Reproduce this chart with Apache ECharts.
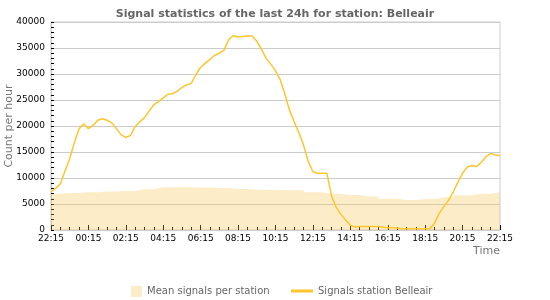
<!DOCTYPE html>
<html>
<head>
<meta charset="utf-8">
<script src="https://cdn.jsdelivr.net/npm/echarts@6/dist/echarts.min.js"></script>
<style>
  html, body { margin: 0; padding: 0; background: #fff; }
  #chart { width: 550px; height: 300px; }
</style>
</head>
<body>
<div id="chart"></div>
<script>
  // x = hours after 22:15 (one day back), tick labels every 2h
  const tickLabels = ['22:15', '00:15', '02:15', '04:15', '06:15', '08:15', '10:15',
    '12:15', '14:15', '16:15', '18:15', '20:15', '22:15']

  // mean signals per station, one value per hour
  const meanHours = [0, 1, 2, 3, 4, 5, 6, 7, 8, 9, 10, 11, 12, 13, 14, 15, 16, 17, 18, 19, 20, 21, 22, 23, 24]
  const meanValues = [6950, 7100, 7250, 7380, 7500, 7830, 8200, 8220, 8150, 8090, 7900, 7750, 7700,
    7650, 7250, 6950, 6750, 6420, 6000, 5780, 5950, 6300, 6700, 6950, 7250]

  // signals of station Belleair, one value per quarter hour
  const stationValues = [
    7400, 8000, 8900, 11400, 13700, 16800, 19500, 20400,
    19500, 20100, 21100, 21400, 21100, 20600, 19500, 18300,
    17800, 18200, 19900, 20800, 21600, 22900, 24100, 24700,
    25400, 26100, 26200, 26700, 27400, 27900, 28200, 29900,
    31300, 32100, 32800, 33600, 34000, 34600, 36600, 37400,
    37100, 37200, 37300, 37300, 36300, 34800, 33000, 31900,
    30600, 28900, 26200, 23000, 20800, 18700, 16300, 13200,
    11200, 10900, 10900, 10900, 6500, 4300, 3000, 1900,
    900, 550, 650, 650, 650, 650, 650, 550,
    450, 450, 400, 250, 250, 250, 250, 250,
    250, 250, 1300, 3200, 4500, 5700, 7300, 9200,
    10900, 12100, 12400, 12200, 13000, 14100, 14700, 14400,
    14300
  ]

  const meanColor = 'rgba(248, 192, 72, 0.3)'
  const lineColor = '#fdc62f'
  const textFont = 'DejaVu Sans'

  const chart = echarts.init(document.getElementById('chart'))

  chart.setOption({
    animation: false,
    textStyle: { fontFamily: textFont },
    title: {
      text: 'Signal statistics of the last 24h for station: Belleair',
      left: 'center',
      top: 4,
      textStyle: { fontSize: 11, fontWeight: 'bold', color: '#666', fontFamily: textFont }
    },
    // y axis title, drawn as a rotated text
    graphic: [{
      type: 'text',
      x: 9,
      y: 126,
      rotation: Math.PI / 2,
      style: {
        text: 'Count per hour',
        fill: '#777',
        font: '11px "DejaVu Sans"',
        align: 'center',
        verticalAlign: 'middle'
      }
    }],
    grid: {
      left: 51,
      right: 50,
      top: 22,
      bottom: 70,
      containLabel: false,
      outerBoundsMode: 'none',
      show: true,
      borderColor: '#ccc',
      borderWidth: 1
    },
    legend: [
      {
        data: [{ name: 'Mean signals per station', icon: 'rect' }],
        left: 126,
        top: 281,
        itemWidth: 11,
        itemHeight: 11,
        textStyle: { color: '#666', fontSize: 10, fontFamily: textFont }
      },
      {
        data: [{ name: 'Signals station Belleair', icon: 'rect', itemStyle: { color: lineColor } }],
        left: 286,
        top: 281,
        itemWidth: 22,
        itemHeight: 3,
        textStyle: { color: '#666', fontSize: 10, fontFamily: textFont }
      }
    ],
    xAxis: {
      type: 'value',
      min: 0,
      max: 24,
      interval: 2,
      name: 'Time',
      nameLocation: 'end',
      nameGap: 0,
      nameTextStyle: {
        color: '#777',
        fontSize: 11,
        align: 'right',
        verticalAlign: 'top',
        padding: [16, 0, 0, 0]
      },
      axisLine: { lineStyle: { color: '#ccc' } },
      axisTick: { inside: true, length: 5, lineStyle: { color: '#000' } },
      minorTick: { show: true, splitNumber: 4, length: 3, lineStyle: { color: '#000' } },
      splitLine: { show: false },
      axisLabel: {
        color: '#000',
        fontSize: 9,
        margin: 4,
        formatter: (v) => tickLabels[Math.round(v / 2)]
      }
    },
    yAxis: {
      type: 'value',
      min: 0,
      max: 40000,
      interval: 5000,
      axisLine: { show: true, lineStyle: { color: '#ccc' } },
      axisTick: { inside: true, length: 3, lineStyle: { color: '#000' } },
      minorTick: { show: true, splitNumber: 5, length: 3, lineStyle: { color: '#000' } },
      splitLine: { lineStyle: { color: '#ccc' } },
      axisLabel: { color: '#000', fontSize: 9, margin: 6, formatter: (v) => String(v) }
    },
    series: [
      {
        name: 'Mean signals per station',
        type: 'line',
        step: 'middle',
        symbol: 'none',
        data: meanHours.map((h, i) => [h, meanValues[i]]),
        lineStyle: { width: 0 },
        itemStyle: { color: meanColor },
        areaStyle: { color: meanColor, opacity: 1 },
        z: 2
      },
      {
        name: 'Signals station Belleair',
        type: 'line',
        symbol: 'none',
        data: stationValues.map((v, i) => [i / 4, v]),
        lineStyle: { color: lineColor, width: 1.5 },
        itemStyle: { color: lineColor },
        z: 3
      }
    ]
  })
</script>
</body>
</html>
